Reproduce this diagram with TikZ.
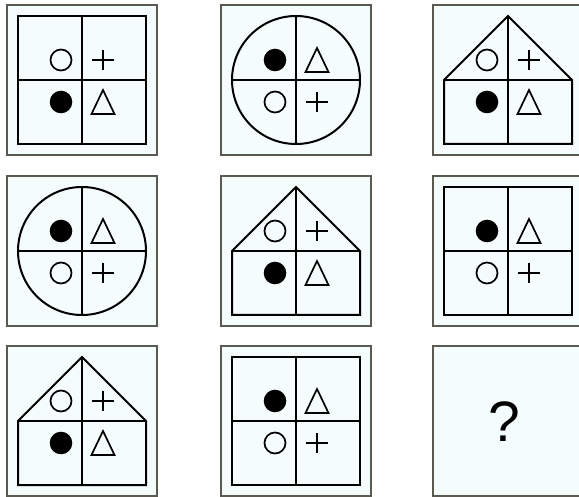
\documentclass[tikz,border=0pt]{standalone}
\usepackage{fontspec}
\setmainfont{Liberation Sans}
\definecolor{framegray}{HTML}{5A5A50}
\definecolor{cellfill}{HTML}{F5FCFC}
\tikzset{
  framebox/.style={draw=framegray, fill=cellfill, line width=2pt},
  inner/.style={draw=black, line width=2pt, line join=miter},
  sym/.style={draw=black, line width=1.7pt},
  opencirc/.pic={\draw[sym] (0,0) circle (10.5);},
  fillcirc/.pic={\fill[black] (0,0) circle (11.3);},
  plusg/.pic={\draw[sym] (-11,0)--(11,0) (0,-10)--(0,10);},
  trig/.pic={\draw[sym, line join=miter] (-11.5,12)--(11.5,12)--(0,-12)--cycle;},
}
\newcommand\myframe[2]{\draw[framebox] (#1-75,#2-75) rectangle (#1+75,#2+75);}
\newcommand\mysquare[2]{\draw[inner] (#1-64,#2-64) rectangle (#1+64,#2+64);
  \draw[inner] (#1,#2-64)--(#1,#2+64) (#1-64,#2)--(#1+64,#2);}
\newcommand\mycircle[2]{\draw[inner] (#1,#2) circle (64);
  \draw[inner] (#1,#2-64)--(#1,#2+64) (#1-64,#2)--(#1+64,#2);}
\newcommand\myhouse[2]{\draw[inner] (#1-64,#2)--(#1,#2-64)--(#1+64,#2)--(#1+64,#2+64)--(#1-64,#2+64)--cycle;
  \draw[inner] (#1,#2-64)--(#1,#2+64) (#1-64,#2)--(#1+64,#2);}
\newcommand\myquads[6]{%
  \pic at (#1-21,#2-20) {#3};
  \pic at (#1+21,#2-20) {#4};
  \pic at (#1-21,#2+22) {#5};
  \pic at (#1+21,#2+22) {#6};}
\begin{document}
\begin{tikzpicture}[x=1pt,y=-1pt]
\useasboundingbox (0,0) rectangle (579,497);
\fill[white] (0,0) rectangle (579,497);
\begin{scope}
\clip (0,0) rectangle (579,497);
% row 1
\myframe{82}{80}\mysquare{82}{80}\myquads{82}{80}{opencirc}{plusg}{fillcirc}{trig}
\myframe{296}{80}\mycircle{296}{80}\myquads{296}{80}{fillcirc}{trig}{opencirc}{plusg}
\myframe{508}{80}\myhouse{508}{80}\myquads{508}{80}{opencirc}{plusg}{fillcirc}{trig}
% row 2
\myframe{82}{251}\mycircle{82}{251}\myquads{82}{251}{fillcirc}{trig}{opencirc}{plusg}
\myframe{296}{251}\myhouse{296}{251}\myquads{296}{251}{opencirc}{plusg}{fillcirc}{trig}
\myframe{508}{251}\mysquare{508}{251}\myquads{508}{251}{fillcirc}{trig}{opencirc}{plusg}
% row 3
\myframe{82}{421}\myhouse{82}{421}\myquads{82}{421}{opencirc}{plusg}{fillcirc}{trig}
\myframe{296}{421}\mysquare{296}{421}\myquads{296}{421}{fillcirc}{trig}{opencirc}{plusg}
\myframe{508}{421}
\node[font=\fontsize{57}{57}\selectfont, inner sep=0pt] (q) at (504,422) {?};
\end{scope}
\end{tikzpicture}
\end{document}
